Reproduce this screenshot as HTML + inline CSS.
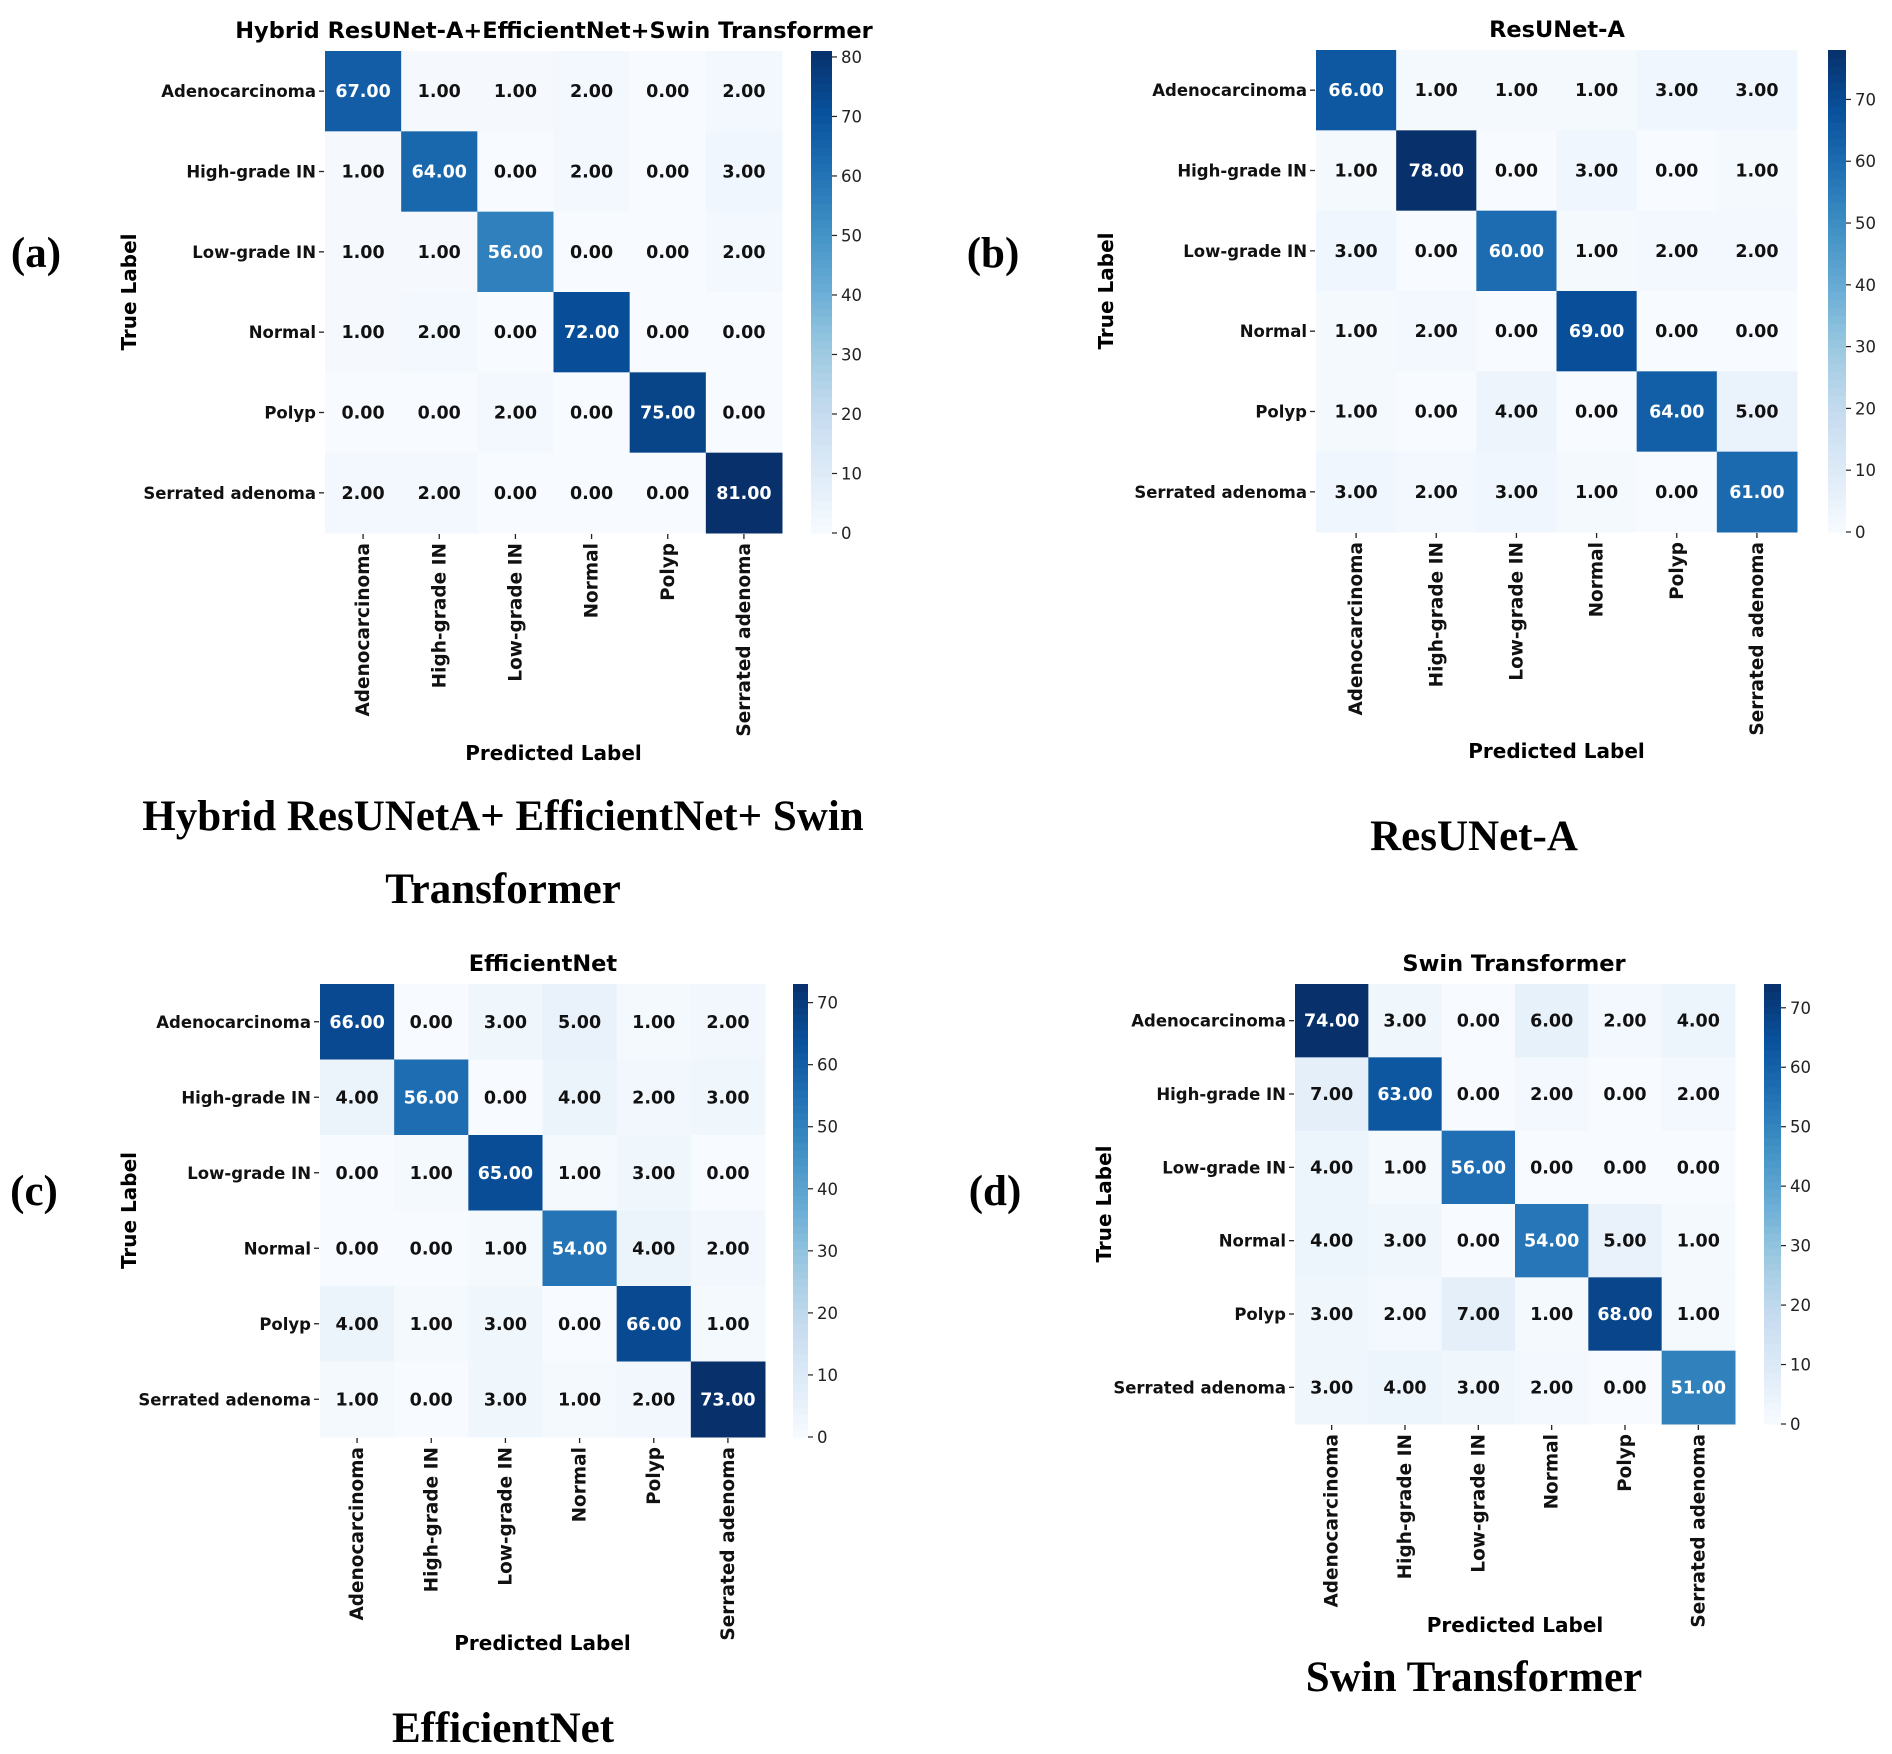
<!DOCTYPE html>
<html><head><meta charset="utf-8">
<style>
html,body{margin:0;padding:0;background:#fff;}
svg{display:block;}
.cap{font-family:"Liberation Serif",serif;font-weight:bold;font-size:43px;fill:#000;}
.tl{font-family:"DejaVu Sans","Liberation Sans",sans-serif;font-weight:bold;font-size:18.5px;fill:#111;}
.tly{font-family:"DejaVu Sans","Liberation Sans",sans-serif;font-weight:bold;font-size:16.5px;fill:#111;}
.ann{font-family:"DejaVu Sans","Liberation Sans",sans-serif;font-weight:bold;font-size:17.5px;}
.ttl{font-family:"DejaVu Sans","Liberation Sans",sans-serif;font-weight:bold;font-size:22.5px;fill:#000;}
.axl{font-family:"DejaVu Sans","Liberation Sans",sans-serif;font-weight:bold;font-size:20px;fill:#000;}
.cbt{font-family:"DejaVu Sans","Liberation Sans",sans-serif;font-size:16.5px;fill:#222;}
</style></head>
<body>
<svg id="fig" width="1892" height="1754" viewBox="0 0 1892 1754" xmlns="http://www.w3.org/2000/svg">
<text class="cap" x="36" y="267" text-anchor="middle">(a)</text>
<text class="cap" x="993" y="267" text-anchor="middle">(b)</text>
<text class="cap" x="34" y="1205" text-anchor="middle">(c)</text>
<text class="cap" x="995" y="1205" text-anchor="middle">(d)</text>
<text class="cap" x="503" y="830" text-anchor="middle">Hybrid ResUNetA+ EfficientNet+ Swin</text>
<text class="cap" x="503" y="903" text-anchor="middle">Transformer</text>
<text class="cap" x="1474" y="850" text-anchor="middle">ResUNet-A</text>
<text class="cap" x="503" y="1742" text-anchor="middle">EfficientNet</text>
<text class="cap" x="1474" y="1691" text-anchor="middle">Swin Transformer</text>
</svg>
<script>
const classes = ["Adenocarcinoma","High-grade IN","Low-grade IN","Normal","Polyp","Serrated adenoma"];
const hybridValues = [[67,1,1,2,0,2],[1,64,0,2,0,3],[1,1,56,0,0,2],[1,2,0,72,0,0],[0,0,2,0,75,0],[2,2,0,0,0,81]];
const resunetValues = [[66,1,1,1,3,3],[1,78,0,3,0,1],[3,0,60,1,2,2],[1,2,0,69,0,0],[1,0,4,0,64,5],[3,2,3,1,0,61]];
const effnetValues = [[66,0,3,5,1,2],[4,56,0,4,2,3],[0,1,65,1,3,0],[0,0,1,54,4,2],[4,1,3,0,66,1],[1,0,3,1,2,73]];
const swinValues = [[74,3,0,6,2,4],[7,63,0,2,0,2],[4,1,56,0,0,0],[4,3,0,54,5,1],[3,2,7,1,68,1],[3,4,3,2,0,51]];
const hybridTicks = [0,10,20,30,40,50,60,70,80];
const otherTicks = [0,10,20,30,40,50,60,70];
const titles = ["Hybrid ResUNet-A+EfficientNet+Swin Transformer","ResUNet-A","EfficientNet","Swin Transformer"];

const NS = "http://www.w3.org/2000/svg";
const svg = document.getElementById("fig");
const stops = ["#f7fbff","#deebf7","#c6dbef","#9ecae1","#6baed6","#4292c6","#2171b5","#08519c","#08306b"];
function hex(h){return [1,3,5].map(i=>parseInt(h.substr(i,2),16));}
function blues(t){
  t=Math.max(0,Math.min(1,t));
  const p=t*8, i=Math.min(7,Math.floor(p)), f=p-i;
  const a=hex(stops[i]), b=hex(stops[i+1]);
  return "rgb("+a.map((v,k)=>Math.round(v+(b[k]-v)*f)).join(",")+")";
}
function el(tag, attrs, parent){
  const e=document.createElementNS(NS,tag);
  for(const k in attrs) e.setAttribute(k,attrs[k]);
  (parent||svg).appendChild(e); return e;
}
function panel(key, values, ticks, title, L){
  const g=el("g",{});
  
  
  let vmax=0; values.forEach(r=>r.forEach(v=>{if(v>vmax)vmax=v;}));
  const n=classes.length, cw=(L.x1-L.x0)/n, ch=(L.y1-L.y0)/n;
  const xs=i=>L.x0+i*cw, ys=j=>L.y0+j*ch;
  values.forEach((row,j)=>row.forEach((v,i)=>{
    const r=el("rect",{x:xs(i),y:ys(j),width:cw+0.5,height:ch+0.5,fill:blues(v/vmax)},g);
    
    
    const t=el("text",{x:xs(i)+cw/2,y:ys(j)+ch/2+6,"text-anchor":"middle",class:"ann",fill:(v/vmax>0.5?"#fff":"#111")},g);
    t.textContent=v.toFixed(2);
    
    
  }));
  classes.forEach((c,j)=>{
    const yy=ys(j)+ch/2;
    el("line",{x1:L.x0-6,x2:L.x0-1,y1:yy,y2:yy,stroke:"#222","stroke-width":1.3},g);
    const t=el("text",{x:L.x0-9,y:yy+6,"text-anchor":"end",class:"tly"},g);
    t.textContent=c;
    
    
  });
  classes.forEach((c,i)=>{
    const xx=xs(i)+cw/2;
    el("line",{x1:xx,x2:xx,y1:L.y1+1,y2:L.y1+6,stroke:"#222","stroke-width":1.3},g);
    const t=el("text",{x:0,y:0,"text-anchor":"end",class:"tl",transform:"translate("+(xx+6)+","+(L.y1+10)+") rotate(-90)"},g);
    t.textContent=c;
    
    
  });
  const cb=el("g",{},g);
  
  
  const steps=60, hh=(L.y1-L.y0)/steps;
  for(let s=0;s<steps;s++){
    el("rect",{x:L.cx0,y:L.y1-(s+1)*hh,width:L.cx1-L.cx0,height:hh+0.6,fill:blues((s+0.5)/steps)},cb);
  }
  const cy=v=>L.y1-(v/vmax)*(L.y1-L.y0);
  ticks.forEach(v=>{
    const yy=cy(v);
    el("line",{x1:L.cx1,x2:L.cx1+5,y1:yy,y2:yy,stroke:"#222","stroke-width":1.2},cb);
    const t=el("text",{x:L.cx1+9,y:yy+6,class:"cbt"},cb);
    t.textContent=v;
    
    
  });
  const tt=el("text",{x:L.tx,y:L.y0-13,"text-anchor":"middle",class:"ttl"},g);
  tt.textContent=title;
  
  
  const yl=el("text",{x:0,y:0,"text-anchor":"middle",class:"axl",transform:"translate("+(L.ylx+7)+","+((L.y0+L.y1)/2)+") rotate(-90)"},g);
  yl.textContent="True Label";
  
  
  const xl=el("text",{x:(L.x0+L.x1)/2,y:L.xly,"text-anchor":"middle",class:"axl"},g);
  xl.textContent="Predicted Label";
  
  
}
panel("hybrid", hybridValues, hybridTicks, titles[0], {x0:325,x1:782,y0:51,y1:533,cx0:811,cx1:832,tx:554,ylx:129,xly:760});
panel("resuneta", resunetValues, otherTicks, titles[1], {x0:1316,x1:1797,y0:50,y1:532,cx0:1828,cx1:1846,tx:1557,ylx:1106,xly:758});
panel("efficientnet", effnetValues, otherTicks, titles[2], {x0:320,x1:765,y0:984,y1:1437,cx0:793,cx1:808,tx:543,ylx:129,xly:1650});
panel("swin", swinValues, otherTicks, titles[3], {x0:1295,x1:1735,y0:984,y1:1424,cx0:1764,cx1:1781,tx:1514,ylx:1104,xly:1632});
</script>
</body></html>
